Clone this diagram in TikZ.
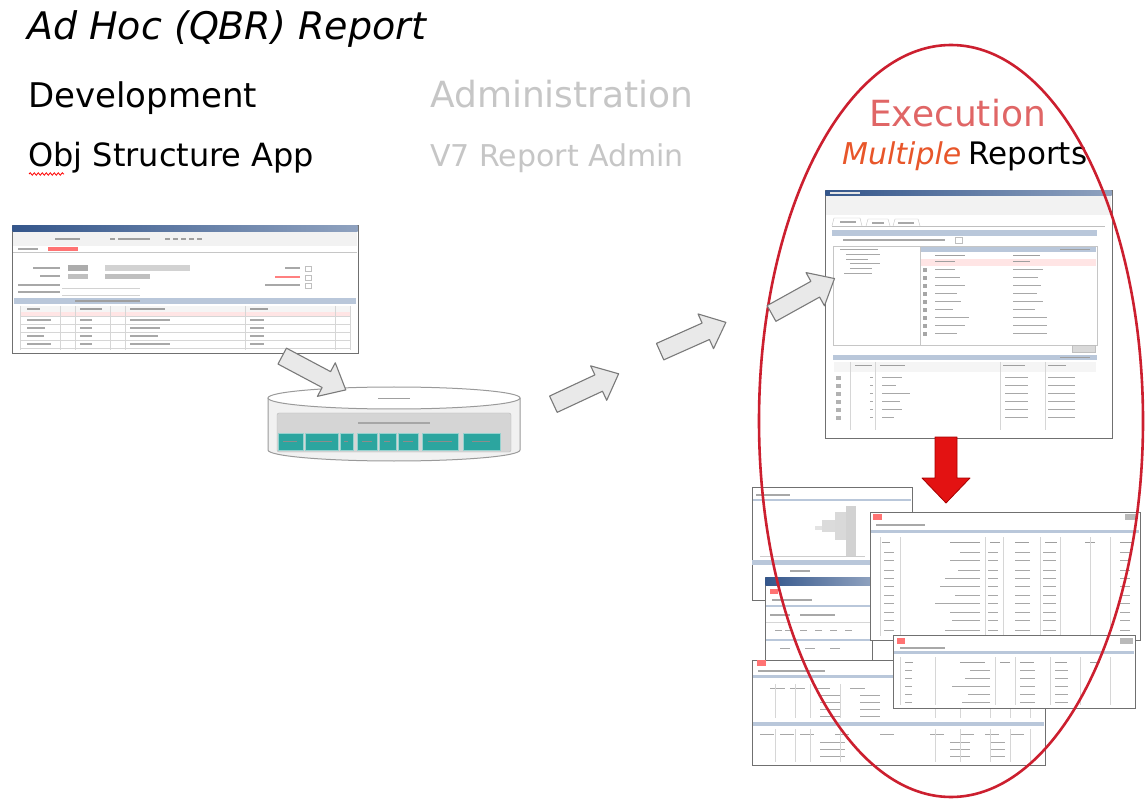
\documentclass[tikz,border=0pt]{standalone}
\usepackage{fontspec}
\setmainfont{DejaVu Sans}
\usetikzlibrary{decorations.pathmorphing}
\definecolor{titleblue}{HTML}{34568B}
\definecolor{secblue}{HTML}{B9C7DA}
\definecolor{winborder}{HTML}{707070}
\definecolor{txtgray}{HTML}{A8A8A8}
\definecolor{gridgray}{HTML}{D6D6D6}
\definecolor{arrowfill}{HTML}{E9E9E9}
\definecolor{arrowborder}{HTML}{7A7A7A}
\definecolor{ellred}{HTML}{CC1F2F}
\definecolor{execred}{HTML}{E06666}
\definecolor{multred}{HTML}{E8562A}
\definecolor{admingray}{HTML}{C6C6C6}
\definecolor{tealbox}{HTML}{2CA59F}
\definecolor{cylfill}{HTML}{F1F1F1}
\definecolor{cylborder}{HTML}{9A9A9A}
\definecolor{redarrow}{HTML}{E31212}
\tikzset{
  win/.style={draw=winborder, fill=white, line width=1},
  tbar/.style={left color=titleblue, right color=titleblue!55!white},
  sec/.style={fill=secblue},
  txt/.style={draw=txtgray, line width=1.3},
  dtxt/.style={draw=gray!75, line width=1.3},
  grid/.style={draw=gridgray, line width=0.5},
  blockarrow/.style={draw=arrowborder, fill=arrowfill, line width=1.1, line join=round},
  lbl/.style={anchor=base west, inner sep=0},
  icon/.style={fill=red!55!white},
}
\begin{document}
\begin{tikzpicture}[x=1pt,y=-1pt]
\useasboundingbox[fill=white] (0,0) rectangle (1146,799);

% ---------------- texts ----------------
\node[lbl, font=\fontsize{38}{38}\selectfont\itshape] (title) at (27,40) {Ad Hoc (QBR) Report};
\node[lbl, font=\fontsize{34}{34}\selectfont] (dev) at (28,108) {Development};
\node[lbl, font=\fontsize{36}{36}\selectfont, text=admingray] (adm) at (430,108) {Administration};
\node[lbl, font=\fontsize{32}{32}\selectfont] (osa) at (28,167) {Obj Structure App};
\node[lbl, font=\fontsize{30}{30}\selectfont, text=admingray] (v7) at (430,167) {V7 Report Admin};
\draw[red, line width=0.8, decoration={snake, amplitude=1.2, segment length=4}, decorate] (29,174) -- (64,174);
\node[lbl, font=\fontsize{36}{36}\selectfont, text=execred] (exec) at (869,127) {Execution};
\node[lbl, font=\fontsize{30}{30}\selectfont\itshape, text=multred] (mult) at (842,165) {Multiple};
\node[lbl, font=\fontsize{31}{31}\selectfont] (reps) at (968,165) {Reports};

% ---------------- development screenshot ----------------
\node[win, anchor=north west, minimum width=346, minimum height=128, inner sep=0] (devshot) at (12,225) {};
\shade[tbar] (12.5,225.5) rectangle (357.5,232);
\fill[gray!10] (13,232) rectangle (357,246);
\foreach \a/\b in {55/80,110/115,118/150,165/170,173/178,181/186,189/194,197/202}
  \draw[dtxt, line width=2] (\a,239) -- (\b,239);
\draw[gray!45] (13,252) -- (357,252);
\draw[icon, draw=none] (48,247) rectangle (78,251);
\draw[txt] (18,249) -- (38,249);
% form
\draw[txt] (33,268) -- (60,268);
\fill[gray!65] (68,265) rectangle (88,271);
\fill[gray!35] (105,265) rectangle (190,271);
\draw[txt] (40,276) -- (60,276);
\fill[gray!50] (68,274) rectangle (88,279);
\fill[gray!50] (105,274) rectangle (150,279);
\draw[txt] (18,285) -- (60,285);
\draw[gray!35] (62,288) -- (140,288);
\draw[txt] (18,292) -- (60,292);
\draw[gray!35] (62,295) -- (140,295);
\draw[txt] (285,268) -- (300,268);
\draw[red!50, line width=1.3] (275,277) -- (300,277);
\draw[txt] (265,285) -- (300,285);
\foreach \yy in {266,275,283} \draw[gray!50] (305,\yy) rectangle (311,\yy+5);
% table
\fill[secblue] (14,298) rectangle (356,304);
\draw[dtxt] (75,301) -- (140,301);
\fill[gray!8] (20,306) rectangle (350,316);
\fill[red!10] (20,312) rectangle (350,316);
\foreach \a/\b in {27/40,80/102,130/165,250/268}
  \draw[dtxt] (\a,309) -- (\b,309);
\foreach \yy in {316,324,332,340,348} \draw[grid] (20,\yy) -- (350,\yy);
\foreach \xx in {20,60,75,110,125,245,335,350} \draw[grid] (\xx,306) -- (\xx,350);
\foreach \yy/\w in {320/40,328/30,336/28,344/40} {
  \draw[txt] (27,\yy) -- (27+\w*0.6,\yy);
  \draw[txt] (80,\yy) -- (92,\yy);
  \draw[txt] (130,\yy) -- (130+\w,\yy);
  \draw[txt] (250,\yy) -- (264,\yy);
}

% ---------------- database cylinder ----------------
\fill[cylfill] (268,398) -- (268,450) arc[start angle=180, end angle=0, x radius=126, y radius=11] -- (520,398) -- cycle;
\draw[cylborder, line width=1] (268,398) -- (268,450) arc[start angle=180, end angle=0, x radius=126, y radius=11] -- (520,398);
\filldraw[fill=white, draw=cylborder, line width=1] (394,398) ellipse[x radius=126, y radius=11];
\coordinate (db) at (394,425);
\draw[dtxt, line width=1] (378,399) -- (410,399);
\filldraw[fill=gray!33, draw=gray!55, rounded corners=2] (277,413) rectangle (511,452);
\draw[gray!70, line width=1.1] (358,423) -- (430,423);
\foreach \a/\b in {278/303,305/338,340/353,357/377,379/396,398/418,422/458,463/500}
  \filldraw[fill=tealbox, draw=tealbox!50!white, line width=0.8] (\a,433) rectangle (\b,450);
\foreach \a/\b in {283/297,310/332,344/348,362/372,384/390,403/413,428/452,472/490}
  \draw[black!45, line width=0.8] (\a,441.5) -- (\b,441.5);

% ---------------- execution screenshot ----------------
\node[win, anchor=north west, minimum width=287, minimum height=248, inner sep=0] (execshot) at (825,190) {};
\shade[tbar] (825.5,190.5) rectangle (1111.5,196);
\draw[txt, draw=white!80!gray] (830,193) -- (860,193);
\fill[gray!10] (826,196) rectangle (1111,215);
\draw[gray!50] (832,226) -- (1105,226);
\draw[gray!45] (832,226) -- (834,218) -- (860,218) -- (862,226);
\draw[gray!45] (866,226) -- (868,219) -- (888,219) -- (890,226);
\draw[gray!45] (893,226) -- (895,219) -- (918,219) -- (920,226);
\draw[txt] (840,222) -- (856,222);
\draw[txt] (872,223) -- (884,223);
\draw[txt] (898,223) -- (914,223);
\fill[secblue] (832,230) rectangle (1097,236);
\draw[txt] (843,240) -- (945,240);
\draw[gray!50] (955,237) rectangle (962,243);
% tree panel
\draw[gray!45] (833,246) rectangle (920,345);
\foreach \yy/\a/\b in {250/840/878,255/846/880,260/846/868,264/850/880,269/850/872,274/844/872}
  \draw[txt, line width=1] (\a,\yy) -- (\b,\yy);
% table panel
\draw[gray!45] (920,246) rectangle (1097,345);
\fill[secblue] (921,247) rectangle (1096,252);
\draw[dtxt, line width=1] (1060,249.5) -- (1090,249.5);
\draw[dtxt, line width=1] (935,256) -- (965,256);
\draw[dtxt, line width=1] (1013,256) -- (1040,256);
\fill[red!10] (921,259) rectangle (1096,266);
\draw[dtxt, line width=1] (935,262) -- (955,262);
\draw[dtxt, line width=1] (1013,262) -- (1030,262);
\foreach \yy/\w/\v in {270/20/30,278/25/25,286/30/28,294/22/24,302/26/30,310/18/22,318/34/34,326/30/34,334/22/34} {
  \fill[gray!70] (923,\yy-2) rectangle (927,\yy+2);
  \draw[txt, line width=1] (935,\yy) -- (935+\w,\yy);
  \draw[txt, line width=1] (1013,\yy) -- (1013+\v,\yy);
}
\filldraw[fill=gray!30, draw=gray!50] (1072,345) rectangle (1095,352);
% lower table
\fill[secblue] (833,355) rectangle (1097,360);
\draw[dtxt, line width=1] (1060,357.5) -- (1090,357.5);
\fill[gray!8] (834,362) rectangle (1096,372);
\foreach \a/\b in {855/872,880/905,1003/1025,1048/1066}
  \draw[dtxt, line width=1] (\a,366) -- (\b,366);
\foreach \xx in {850,875,1000,1045} \draw[grid] (\xx,362) -- (\xx,430);
\foreach \yy/\w in {378/20,386/14,394/28,402/18,410/20,418/12} {
  \fill[gray!60] (836,\yy-2) rectangle (841,\yy+2);
  \draw[txt, line width=1] (870,\yy) -- (873,\yy);
  \draw[txt, line width=1] (882,\yy) -- (882+\w,\yy);
  \draw[txt, line width=1] (1005,\yy) -- (1028,\yy);
  \draw[txt, line width=1] (1048,\yy) -- (1075,\yy);
}

% ---------------- report stack ----------------
% window A
\filldraw[win] (752,487) rectangle (912,600);
\draw[txt] (756,495) -- (790,495);
\draw[secblue, line width=1.5] (753,500) -- (911,500);
\fill[gray!35] (846,506) rectangle (856,556);
\fill[gray!30] (835,512) rectangle (846,540);
\fill[gray!28] (822,520) rectangle (835,532);
\fill[gray!22] (815,526) rectangle (822,530);
\draw[gray!40] (760,556) -- (865,556);
\fill[secblue] (752,560) rectangle (870,565);
\draw[txt] (790,571) -- (810,571);
% window B
\filldraw[win] (765,577) rectangle (872,692);
\shade[tbar] (765.5,577.5) rectangle (871.5,585);
\fill[icon] (770,589) rectangle (778,594);
\draw[txt] (772,600) -- (812,600);
\draw[secblue, line width=1.5] (766,606) -- (871,606);
\draw[txt] (770,615) -- (790,615);
\draw[txt] (800,615) -- (835,615);
\draw[grid] (766,622) -- (871,622);
\foreach \xx in {775,785,800,815,830,845} \draw[txt, line width=1] (\xx,630) -- (\xx+7,630);
\draw[secblue, line width=1.5] (766,640) -- (871,640);
\foreach \xx in {780,805,830} \draw[txt, line width=1] (\xx,648) -- (\xx+10,648);
% window E
\filldraw[win] (752,660) rectangle (1045,765);
\fill[icon] (757,660) rectangle (766,666);
\draw[txt] (758,671) -- (825,671);
\fill[secblue] (753,675) rectangle (1044,678);
\foreach \xx in {770,790,815,850,895} \draw[txt, line width=1] (\xx,688) -- (\xx+15,688);
\foreach \yy in {695,702,709,716} {
  \draw[txt, line width=0.9] (820,\yy) -- (840,\yy);
  \draw[txt, line width=0.9] (860,\yy) -- (880,\yy);
}
\foreach \xx in {775,795,810,840,935,960,990,1010,1030} \draw[grid] (\xx,684) -- (\xx,718);
\fill[secblue] (753,722) rectangle (1044,726);
\foreach \xx in {760,780,800,835,880,930,960,985,1010} \draw[txt, line width=1] (\xx,734) -- (\xx+14,734);
\foreach \yy in {742,749,756} {
  \draw[txt, line width=0.9] (820,\yy) -- (845,\yy);
  \draw[txt, line width=0.9] (950,\yy) -- (970,\yy);
  \draw[txt, line width=0.9] (990,\yy) -- (1005,\yy);
}
\foreach \xx in {775,795,810,840,935,960,990,1010,1030} \draw[grid] (\xx,729) -- (\xx,762);
% window C
\filldraw[win] (870,512) rectangle (1140,640);
\fill[icon] (873,514) rectangle (882,520);
\fill[gray!55] (1125,514) rectangle (1137,520);
\draw[txt] (876,525) -- (925,525);
\fill[secblue] (871,530) rectangle (1139,533);
\foreach \xx/\w in {882/8,950/30,990/10,1015/14,1045/12,1085/10,1120/12} \draw[dtxt, line width=1] (\xx,542) -- (\xx+\w,542);
\foreach \xx in {880,900,985,1003,1040,1060,1090,1110} \draw[grid] (\xx,537) -- (\xx,636);
\foreach \yy/\w in {552/20,560/30,570/22,578/35,586/40,595/25,603/45,612/30,620/28,630/35} {
  \draw[txt, line width=1] (884,\yy) -- (894,\yy);
  \draw[txt, line width=1] (980-\w,\yy) -- (980,\yy);
  \draw[txt, line width=1] (988,\yy) -- (998,\yy);
  \draw[txt, line width=1] (1015,\yy) -- (1030,\yy);
  \draw[txt, line width=1] (1043,\yy) -- (1056,\yy);
  \draw[txt, line width=1] (1120,\yy) -- (1130,\yy);
}
% window D
\filldraw[win] (893,635) rectangle (1135,708);
\fill[icon] (897,638) rectangle (905,644);
\fill[gray!55] (1120,638) rectangle (1133,644);
\draw[txt] (900,648) -- (945,648);
\fill[secblue] (894,651) rectangle (1134,654);
\foreach \xx/\w in {905/8,960/25,1000/10,1020/14,1055/12,1090/10} \draw[dtxt, line width=1] (\xx,662) -- (\xx+\w,662);
\foreach \xx in {900,935,995,1015,1050,1080,1110} \draw[grid] (\xx,657) -- (\xx,705);
\foreach \yy/\w in {670/20,678/25,686/38,694/22,702/28} {
  \draw[txt, line width=1] (905,\yy) -- (912,\yy);
  \draw[txt, line width=1] (990-\w,\yy) -- (990,\yy);
  \draw[txt, line width=1] (1020,\yy) -- (1035,\yy);
  \draw[txt, line width=1] (1055,\yy) -- (1068,\yy);
}

% ---------------- red ellipse ----------------
\draw[ellred, line width=2.6] (951,421) ellipse[x radius=192, y radius=376];
\coordinate (ell) at (951,421);

% ---------------- block arrows ----------------
\coordinate (a1) at (314,373);
\coordinate (a2) at (586,389);
\coordinate (a3) at (693,337);
\coordinate (a4) at (803,296);
\foreach \c/\ang in {a1/-28,a2/25,a3/24,a4/29}
  \draw[blockarrow, shift={(\c)}, rotate=\ang]
    (-36,-9) -- (14,-9) -- (14,-19) -- (36,0) -- (14,19) -- (14,9) -- (-36,9) -- cycle;

% ---------------- red down arrow ----------------
\coordinate (rtip) at (946,503);
\draw[fill=redarrow, draw=red!65!black, line width=0.8, line join=round]
  (935,437) -- (957,437) -- (957,478) -- (970,478) -- (rtip) -- (922,478) -- (935,478) -- cycle;
\end{tikzpicture}
\end{document}
